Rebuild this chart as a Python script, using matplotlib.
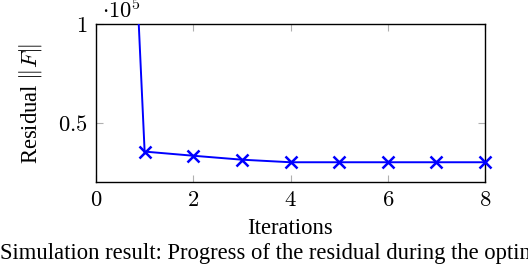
import matplotlib
matplotlib.use("Agg")
import matplotlib.pyplot as plt

iterations = [0, 1, 2, 3, 4, 5, 6, 7, 8]
residual_e5 = [5.7, 0.354, 0.333, 0.313, 0.300, 0.300, 0.300, 0.300, 0.300]
xticks = [0, 2, 4, 6, 8]
yticks = [0.5, 1]
ytick_labels = [r"$0.5$", r"$1$"]

plt.rcParams['font.family'] = ['Liberation Serif']
plt.rcParams['mathtext.fontset'] = 'cm'
FS = 16.3

fig = plt.figure(figsize=(5.28, 2.66), dpi=100)
ax = fig.add_axes([96/528, 1-182/266, (485-96)/528, (182-24)/266])

ax.plot(iterations[1:], residual_e5[1:], color=(0, 0, 1), lw=1.4,
        marker='x', ms=9, mew=1.8, clip_on=False, zorder=3)
ax.plot(iterations[:2], residual_e5[:2], color=(0, 0, 1), lw=1.4, zorder=3)

ax.set_xlim(0, 8)
ax.set_ylim(0.2, 1)
ax.set_xticks(xticks)
ax.set_xticklabels([r"$%d$" % t for t in xticks])
ax.set_yticks(yticks)
ax.set_yticklabels(ytick_labels)
ax.tick_params(direction='in', length=5, width=0.8, color='#b0b0b0',
               top=True, right=True, labelsize=FS, pad=6)
for s in ax.spines.values():
    s.set_linewidth(1.0)

fig.text(290/528, 1-228/266, "Iterations", fontsize=FS, ha='center', va='center')
fig.text(31/528, 1-104/266, r"Residual $\|F\|$", fontsize=FS, ha='center', va='center',
         rotation=90)
fig.text(102/528, 1-11/266, r"$\cdot 10^5$", fontsize=FS, ha='left', va='center')
fig.text(0, 1-253/266, "Simulation result: Progress of the residual during the optimization",
         fontsize=FS, ha='left', va='center')

fig.savefig("out.png", dpi=100)
